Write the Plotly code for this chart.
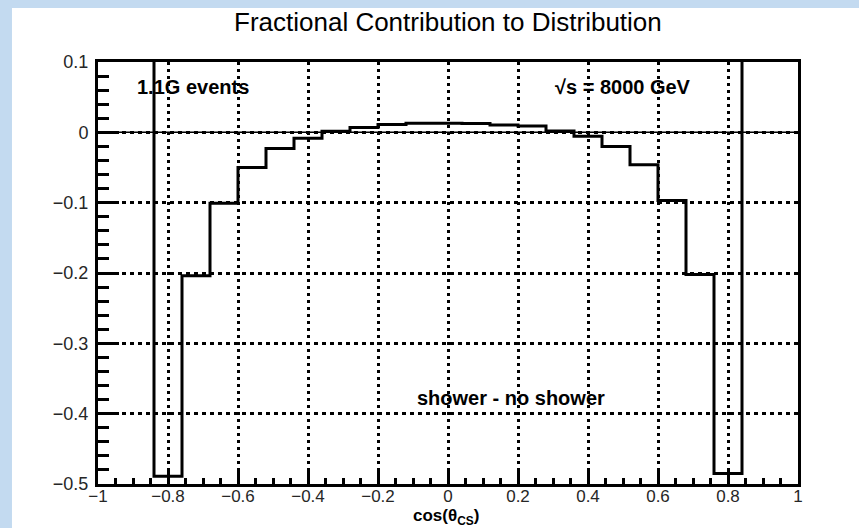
import plotly.graph_objects as go

# Histogram binning: 25 bins of width 0.08 over cos(theta_CS) in [-1, 1]
bin_edges = [round(-1.0 + 0.08 * i, 2) for i in range(26)]

# Fractional contribution (shower - no shower) per bin; the outermost bins
# lie far above the plotted range.
frac_values = [
    1.0, 1.0,
    -0.489, -0.204, -0.101, -0.050, -0.023, -0.0085, 0.0015, 0.007,
    0.011, 0.013, 0.013, 0.0125, 0.0105, 0.009, 0.002, -0.0057,
    -0.020, -0.046, -0.097, -0.202, -0.485,
    1.0, 1.0,
]

x_ticks = [-1, -0.8, -0.6, -0.4, -0.2, 0, 0.2, 0.4, 0.6, 0.8, 1]
x_tick_text = ["\u22121", "\u22120.8", "\u22120.6", "\u22120.4", "\u22120.2",
               "0", "0.2", "0.4", "0.6", "0.8", "1"]
y_ticks = [-0.5, -0.4, -0.3, -0.2, -0.1, 0, 0.1]
y_tick_text = ["\u22120.5", "\u22120.4", "\u22120.3", "\u22120.2", "\u22120.1",
               "0", "0.1"]

FONT = "Liberation Sans, Arial, Helvetica, sans-serif"

fig = go.Figure()

# step outline of the histogram
fig.add_trace(go.Scatter(
    x=bin_edges,
    y=frac_values + [frac_values[-1]],
    mode="lines",
    line=dict(shape="hv", color="black", width=3),
    showlegend=False,
    hoverinfo="skip",
))

axis_common = dict(
    showline=True, linecolor="black", linewidth=3, mirror=True,
    showgrid=True, gridcolor="black", gridwidth=2.5,
    zeroline=False,
    ticks="inside", tickcolor="black", tickwidth=3,
    tickfont=dict(family=FONT, size=18, color="#262626"),
)

fig.update_xaxes(
    **axis_common,
    range=[-1, 1],
    tickvals=x_ticks, ticktext=x_tick_text,
    ticklen=13,
    griddash="3px,4px",
    minor=dict(dtick=0.05, ticks="inside", ticklen=6, tickwidth=3,
               tickcolor="black", showgrid=False),
    ticklabelstandoff=-5,
)
fig.update_xaxes(tickfont_size=17)
fig.update_yaxes(
    **axis_common,
    range=[-0.5, 0.1],
    tickvals=y_ticks, ticktext=y_tick_text,
    ticklen=21,
    griddash="4px,4px",
    minor=dict(dtick=0.02, ticks="inside", ticklen=11, tickwidth=3,
               tickcolor="black", showgrid=False),
    ticklabelstandoff=3,
)

# white canvas on a light-blue page
fig.add_shape(type="rect", xref="paper", yref="paper",
              x0=-0.1229, x1=1.2, y0=-0.3, y1=1.128,
              fillcolor="white", line=dict(width=0), layer="below")

# thin solid line at zero
fig.add_shape(type="line", xref="paper", yref="y", x0=0, x1=1, y0=0, y1=0,
              line=dict(color="black", width=1.5), layer="above")

fig.add_annotation(text="Fractional Contribution to Distribution",
                   xref="paper", yref="paper", x=0.5, y=1.0948,
                   xanchor="center", yanchor="middle", showarrow=False,
                   font=dict(family=FONT, size=26, color="black"))
fig.add_annotation(text="<b>1.1G events</b>", x=-0.894, y=0.064,
                   xanchor="left", yanchor="middle", showarrow=False,
                   font=dict(family=FONT, size=20, color="black"))
fig.add_annotation(text="<b>\u221as = 8000 GeV</b>", x=0.70, y=0.064,
                   xanchor="right", yanchor="middle", showarrow=False,
                   font=dict(family=FONT, size=20, color="black"))
fig.add_annotation(text="<b>shower - no shower</b>", x=-0.094, y=-0.378,
                   xanchor="left", yanchor="middle", showarrow=False,
                   font=dict(family=FONT, size=20, color="black"))
fig.add_annotation(text="<b>cos(\u03b8<sub>CS</sub>)</b>",
                   xref="paper", yref="paper", x=0.497, y=-0.0785,
                   xanchor="center", yanchor="middle", showarrow=False,
                   font=dict(family=FONT, size=17, color="black"))

fig.update_layout(
    width=859, height=528,
    margin=dict(l=98, r=61, t=62, b=44, pad=0),
    paper_bgcolor="#c3daf0",
    plot_bgcolor="white",
    showlegend=False,
)

fig.write_html("out.html", config={"displayModeBar": False})
